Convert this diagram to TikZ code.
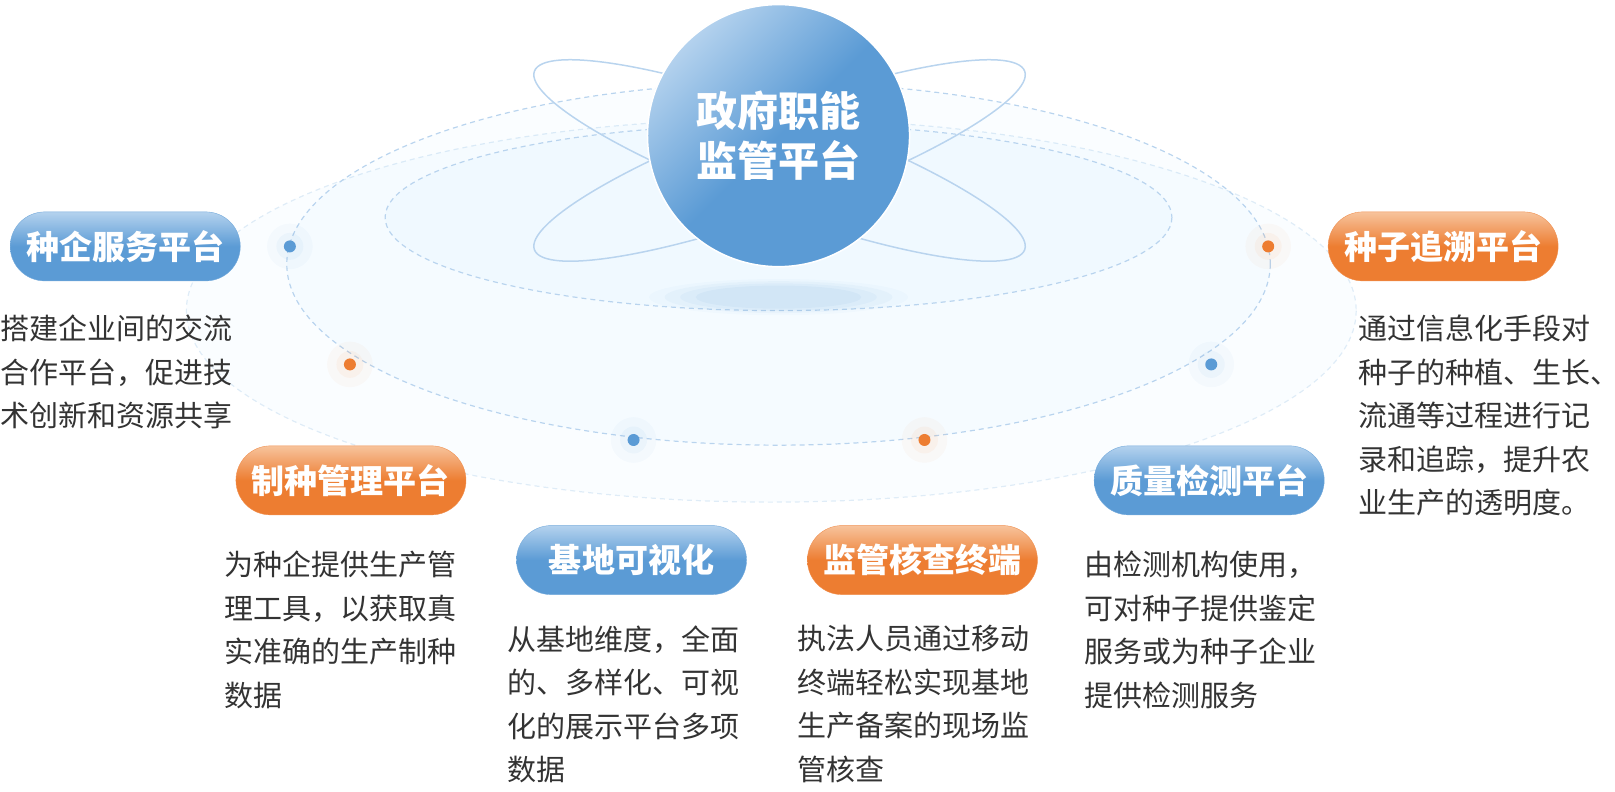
\documentclass[tikz,border=0pt]{standalone}
\usepackage{fontspec}
\setmainfont{Noto Sans CJK SC}
\usetikzlibrary{shapes.misc}
\definecolor{pblue}{HTML}{5B9BD5}
\definecolor{pbluel}{HTML}{B4D2EE}
\definecolor{porange}{HTML}{ED7D31}
\definecolor{porangel}{HTML}{F7C39C}
\definecolor{txt}{HTML}{333333}
\definecolor{orb}{HTML}{B9D4EE}
\tikzset{
 pill/.style={rounded rectangle, minimum width=230pt, minimum height=69pt, inner sep=0pt,
   text=white, font=\fontsize{33}{35}\selectfont\bfseries},
 bluepill/.style={pill, draw=pblue!85, top color=pbluel, bottom color=pblue, middle color=pblue},
 orangepill/.style={pill, draw=porange!85, top color=porangel, bottom color=porange, middle color=porange},
 desc/.style={anchor=north west, inner sep=0pt, align=left, text=txt, font=\fontsize{29}{43.5}\selectfont},
 dashring/.style={draw=orb, dashed, line width=1.2pt, dash pattern=on 5pt off 4pt},
}
\begin{document}
\begin{tikzpicture}[x=1.035pt,y=-1.035pt]
\useasboundingbox (0,0) rectangle (1560,765);
% background ellipses
\fill[blue!40!cyan, opacity=0.02] (745,300) ellipse [x radius=565, y radius=185];
\draw[dashring, draw=orb!45] (745,300) ellipse [x radius=565, y radius=185];
\fill[blue!40!cyan, opacity=0.02] (752,255) ellipse [x radius=475, y radius=175];
\draw[dashring] (752,255) ellipse [x radius=475, y radius=175];
\fill[blue!40!cyan, opacity=0.02] (752,210) ellipse [x radius=380, y radius=90];
\draw[dashring] (752,210) ellipse [x radius=380, y radius=90];
% shadow
\foreach \r/\o in {125/0.03,110/0.05,95/0.06,80/0.07}
  \fill[pblue, opacity=\o] (752,287) ellipse [x radius=\r, y radius=\r*0.14];
% orbits
\draw[orb, line width=1.5pt, rotate around={20:(753,155)}] (753,155) ellipse [x radius=252, y radius=48];
\draw[orb, line width=1.5pt, rotate around={-20:(753,155)}] (753,155) ellipse [x radius=252, y radius=48];
% central circle
\node[circle, minimum size=262pt, inner sep=0pt, draw=white, line width=1.5pt,
  shading=axis, top color=pbluel, bottom color=pblue, middle color=pblue, shading angle=45,
  text=white, font=\fontsize{41}{50}\selectfont\bfseries, align=center] (c) at (752,131) {政府职能\\监管平台};
% dots
\foreach \x/\y/\c/\n in {280/238/pblue/d1, 338/352/porange/d2, 612/425/pblue/d3, 893/425/porange/d4, 1170/352/pblue/d5, 1225/238/porange/d6}{
  \fill[\c, opacity=0.04] (\x,\y) circle [radius=22];
  \fill[\c, opacity=0.06] (\x,\y) circle [radius=13];
  \node[circle, fill=\c, minimum size=12pt, inner sep=0pt] (\n) at (\x,\y) {};
}
% pills
\node[bluepill] (p1) at (121,238) {种企服务平台};
\node[orangepill] (p2) at (339,464) {制种管理平台};
\node[bluepill] (p3) at (610,541) {基地可视化};
\node[orangepill] (p4) at (891,541) {监管核查终端};
\node[bluepill] (p5) at (1168,464) {质量检测平台};
\node[orangepill] (p6) at (1394,238) {种子追溯平台};
% descriptions
\node[desc] (t1) at (0,304) {搭建企业间的交流\\合作平台，促进技\\术创新和资源共享};
\node[desc] (t2) at (217,532) {为种企提供生产管\\理工具，以获取真\\实准确的生产制种\\数据};
\node[desc] (t3) at (490,604) {从基地维度，全面\\的、多样化、可视\\化的展示平台多项\\数据};
\node[desc] (t4) at (770,604) {执法人员通过移动\\终端轻松实现基地\\生产备案的现场监\\管核查};
\node[desc] (t5) at (1047,532) {由检测机构使用，\\可对种子提供鉴定\\服务或为种子企业\\提供检测服务};
\node[desc] (t6) at (1312,304) {通过信息化手段对\\种子的种植、生长、\\流通等过程进行记\\录和追踪，提升农\\业生产的透明度。};
\end{tikzpicture}
\end{document}
